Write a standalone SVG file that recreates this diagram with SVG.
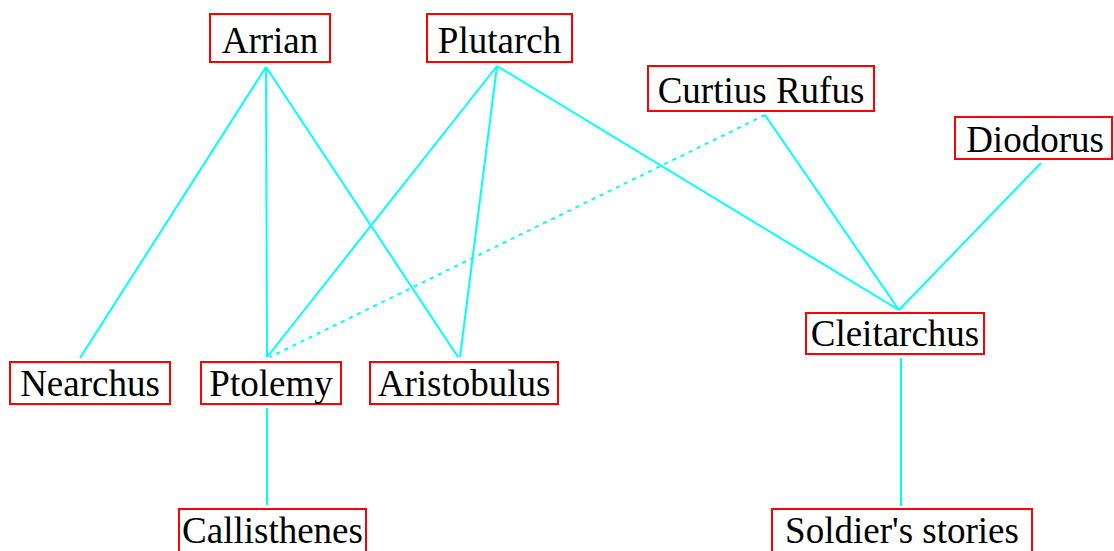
<svg xmlns="http://www.w3.org/2000/svg" width="1114" height="551" viewBox="0 0 1114 551">
<style>
.box{fill:#fff;stroke:#ff0000;stroke-width:2}
.lbl{font-family:'Liberation Serif','DejaVu Serif',serif;font-size:37px;fill:#000;text-anchor:middle}
.e{stroke:#00ffff;stroke-width:2;fill:none}
.d{stroke-dasharray:4 5}
</style>
<rect width="1114" height="551" fill="#fff"/>
<g id="connectors">
<line class="e" x1="266" y1="67" x2="80" y2="358"/>
<line class="e" x1="266" y1="67" x2="267" y2="357"/>
<line class="e" x1="266" y1="67" x2="458" y2="357"/>
<line class="e" x1="497" y1="66" x2="268" y2="356"/>
<line class="e" x1="497" y1="66" x2="460" y2="357"/>
<line class="e" x1="497" y1="66" x2="899" y2="310"/>
<line class="e d" x1="765" y1="115" x2="270" y2="357"/>
<line class="e" x1="765" y1="115" x2="899" y2="310"/>
<line class="e" x1="1041" y1="163" x2="899" y2="310"/>
<line class="e" x1="267" y1="408" x2="267" y2="505"/>
<line class="e" x1="901" y1="358" x2="901" y2="506"/>
</g>
<g id="arrian"><rect class="box" x="210" y="14" width="120" height="48"/><text class="lbl" x="270" y="53">Arrian</text></g>
<g id="plutarch"><rect class="box" x="427" y="14" width="145" height="48"/><text class="lbl" x="499.5" y="53">Plutarch</text></g>
<g id="curtius"><rect class="box" x="648" y="66" width="226" height="45"/><text class="lbl" x="761" y="103">Curtius Rufus</text></g>
<g id="diodorus"><rect class="box" x="955" y="117" width="157" height="42"/><text class="lbl" x="1035" y="152">Diodorus</text></g>
<g id="cleitarchus"><rect class="box" x="806" y="313" width="178" height="41"/><text class="lbl" x="895" y="346">Cleitarchus</text></g>
<g id="nearchus"><rect class="box" x="10" y="362" width="160" height="42"/><text class="lbl" x="90" y="396">Nearchus</text></g>
<g id="ptolemy"><rect class="box" x="201" y="362" width="140" height="42"/><text class="lbl" x="271" y="396">Ptolemy</text></g>
<g id="aristobulus"><rect class="box" x="370" y="362" width="188" height="42"/><text class="lbl" x="464" y="396">Aristobulus</text></g>
<g id="callisthenes"><rect class="box" x="179" y="509" width="187" height="46"/><text class="lbl" x="272.5" y="543">Callisthenes</text></g>
<g id="soldiers"><rect class="box" x="772" y="509" width="260" height="46"/><text class="lbl" x="902" y="543">Soldier's stories</text></g>
</svg>
